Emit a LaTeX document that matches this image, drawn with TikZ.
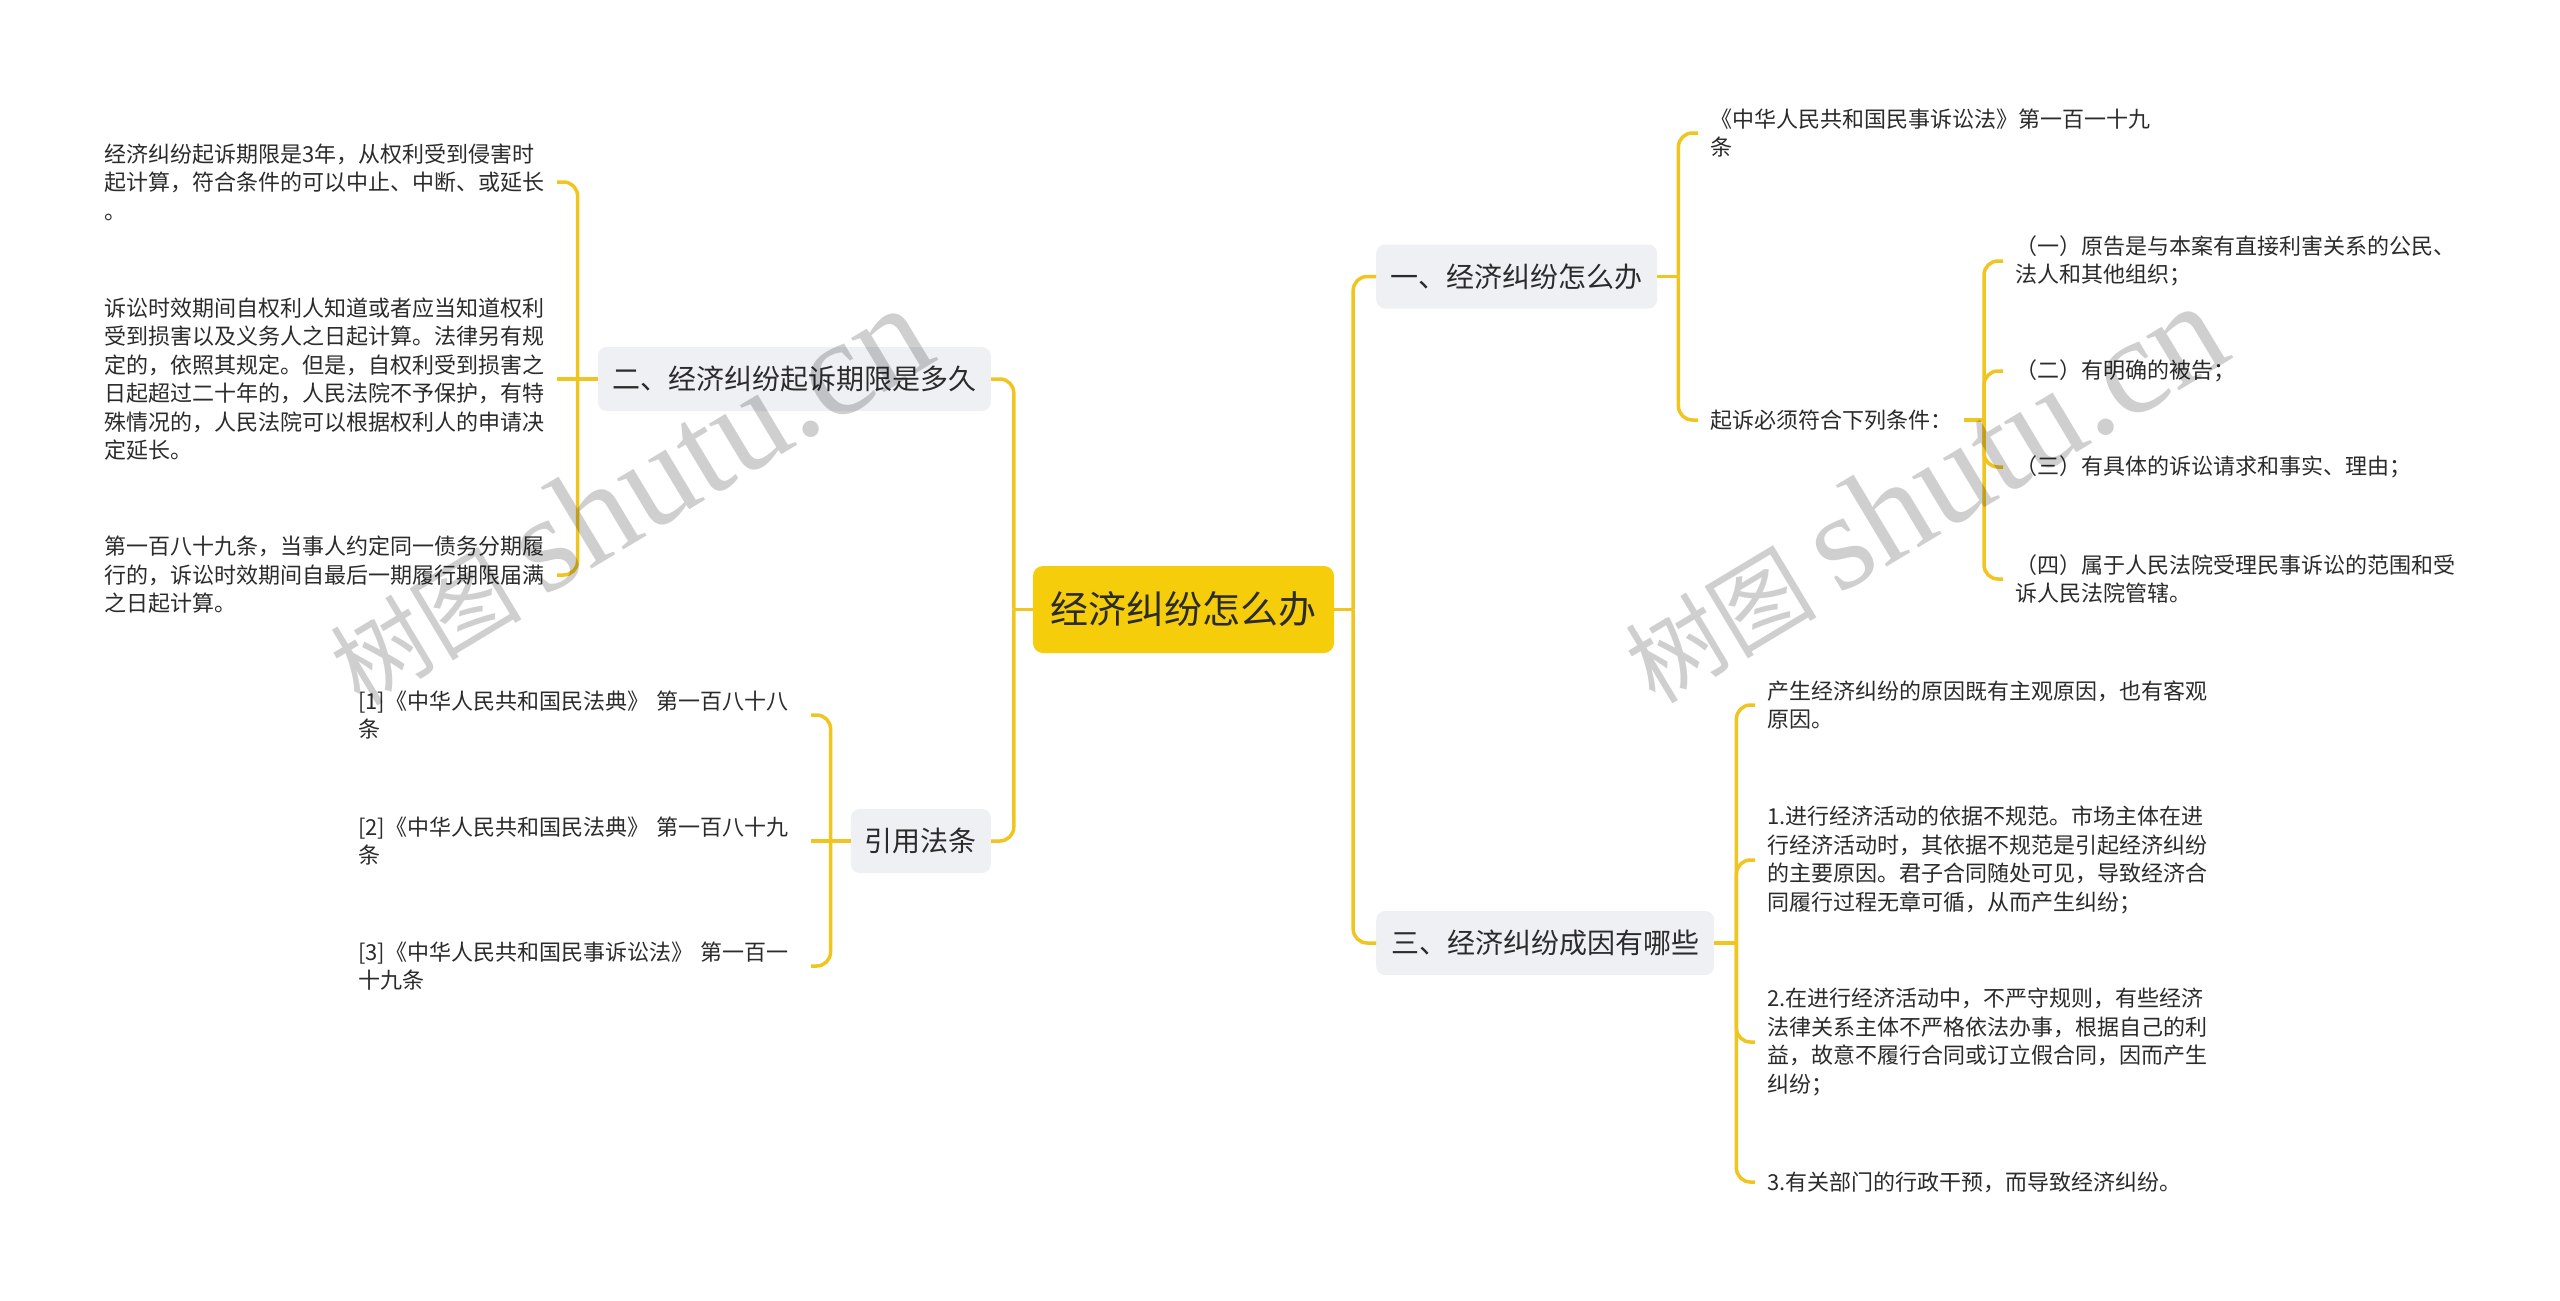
\documentclass[tikz,border=0pt]{standalone}
\usepackage{fontspec}
\setmainfont{Noto Sans CJK SC}
\newfontfamily\wmlatin{Liberation Serif}
\definecolor{lc}{HTML}{F0C520}
\definecolor{rootc}{HTML}{F5CD0B}
\definecolor{boxc}{HTML}{EEF0F4}
\definecolor{txt}{HTML}{2B2B2B}
\definecolor{wmc}{HTML}{CFCFCF}
\tikzset{
  conn/.style={draw=lc, line width=3.5pt, rounded corners=14pt},
  rootbox/.style={fill=rootc, rounded corners=10pt, minimum width=301pt, minimum height=87pt,
    inner sep=0pt, text=txt, font=\fontsize{38}{46}\selectfont},
  subbox/.style={fill=boxc, rounded corners=9pt, minimum height=64pt, inner sep=0pt,
    text=txt, font=\fontsize{28}{34}\selectfont},
  leaf/.style={align=left, text=txt, font=\fontsize{22}{28.5}\selectfont,
    inner xsep=0pt, inner ysep=2pt, outer xsep=12pt},
  lleaf/.style={leaf, text width=441pt, anchor=east},
  rleaf/.style={leaf, anchor=west},
  wmark/.style={text=wmc, inner sep=0pt, rotate=31, anchor=base west}
}
\begin{document}
\begin{tikzpicture}[x=1pt,y=-1pt]
\useasboundingbox (0,0) rectangle (2560,1301);
\fill[white] (0,0) rectangle (2560,1301);

% main nodes
\node[rootbox] (root) at (1183.5,609.5) {经济纠纷怎么办};
\node[subbox, minimum width=281pt, anchor=west] (b1) at (1376,276.5) {一、经济纠纷怎么办};
\node[subbox, minimum width=393pt, anchor=east] (b2) at (991,379) {二、经济纠纷起诉期限是多久};
\node[subbox, minimum width=338pt, anchor=west] (b3) at (1376,943) {三、经济纠纷成因有哪些};
\node[subbox, minimum width=140pt, anchor=east] (b4) at (991,841) {引用法条};

% left leaves of b2
\node[lleaf] (l1) at (557,182) {经济纠纷起诉期限是3年，从权利受到侵害时\\起计算，符合条件的可以中止、中断、或延长\\。};
\node[lleaf] (l2) at (557,379) {诉讼时效期间自权利人知道或者应当知道权利\\受到损害以及义务人之日起计算。法律另有规\\定的，依照其规定。但是，自权利受到损害之\\日起超过二十年的，人民法院不予保护，有特\\殊情况的，人民法院可以根据权利人的申请决\\定延长。};
\node[lleaf] (l3) at (557,575) {第一百八十九条，当事人约定同一债务分期履\\行的，诉讼时效期间自最后一期履行期限届满\\之日起计算。};

% leaves of b4
\node[lleaf] (r1) at (811,715) {[1]《中华人民共和国民法典》 第一百八十八\\条};
\node[lleaf] (r2) at (811,841) {[2]《中华人民共和国民法典》 第一百八十九\\条};
\node[lleaf] (r3) at (811,966) {[3]《中华人民共和国民事诉讼法》 第一百一\\十九条};

% leaves of b1
\node[rleaf] (a1) at (1698,133) {《中华人民共和国民事诉讼法》第一百一十九\\条};
\node[rleaf] (a2) at (1698,420) {起诉必须符合下列条件：};
\node[rleaf] (d1) at (2003,261) {（一）原告是与本案有直接利害关系的公民、\\法人和其他组织；};
\node[rleaf] (d2) at (2003,371) {（二）有明确的被告；};
\node[rleaf] (d3) at (2003,467) {（三）有具体的诉讼请求和事实、理由；};
\node[rleaf] (d4) at (2003,579) {（四）属于人民法院受理民事诉讼的范围和受\\诉人民法院管辖。};

% leaves of b3
\node[rleaf] (c1) at (1755,705) {产生经济纠纷的原因既有主观原因，也有客观\\原因。};
\node[rleaf] (c2) at (1755,860) {1.进行经济活动的依据不规范。市场主体在进\\行经济活动时，其依据不规范是引起经济纠纷\\的主要原因。君子合同随处可见，导致经济合\\同履行过程无章可循，从而产生纠纷；};
\node[rleaf] (c3) at (1755,1042) {2.在进行经济活动中，不严守规则，有些经济\\法律关系主体不严格依法办事，根据自己的利\\益，故意不履行合同或订立假合同，因而产生\\纠纷；};
\node[rleaf] (c4) at (1755,1182) {3.有关部门的行政干预，而导致经济纠纷。};

% connectors: root
\draw[conn] (root.east) -- ++(19,0) coordinate (rT);
\draw[conn] (rT) |- (b1.west);
\draw[conn] (rT) |- (b3.west);
\draw[conn] (root.west) -- ++(-19,0) coordinate (lT);
\draw[conn] (lT) |- (b2.east);
\draw[conn] (lT) |- (b4.east);

% b2
\draw[conn] (b2.west) -- ++(-20,0) coordinate (b2T);
\draw[conn] (b2T) |- (l1.east);
\draw[conn] (b2T) -- (l2.east);
\draw[conn] (b2T) |- (l3.east);

% b4
\draw[conn] (b4.west) -- ++(-20,0) coordinate (b4T);
\draw[conn] (b4T) |- (r1.east);
\draw[conn] (b4T) -- (r2.east);
\draw[conn] (b4T) |- (r3.east);

% b1
\draw[conn] (b1.east) -- ++(21,0) coordinate (b1T);
\draw[conn] (b1T) |- (a1.west);
\draw[conn] (b1T) |- (a2.west);

% a2
\draw[conn] (a2.east) -- ++(20,0) coordinate (a2T);
\draw[conn] (a2T) |- (d1.west);
\draw[conn] (a2T) |- (d2.west);
\draw[conn] (a2T) |- (d3.west);
\draw[conn] (a2T) |- (d4.west);

% b3
\draw[conn] (b3.east) -- ++(22,0) coordinate (b3T);
\draw[conn] (b3T) |- (c1.west);
\draw[conn] (b3T) |- (c2.west);
\draw[conn] (b3T) |- (c3.west);
\draw[conn] (b3T) |- (c4.west);

% watermarks
\begin{scope}[blend mode=multiply]
\node[wmark] (wm1) at (360,708) {\fontsize{96}{96}\selectfont 树图 {\wmlatin\fontsize{138}{138}\selectfont shutu.cn}};
\node[wmark] (wm2) at (1655,706) {\fontsize{96}{96}\selectfont 树图 {\wmlatin\fontsize{138}{138}\selectfont shutu.cn}};
\end{scope}
\end{tikzpicture}
\end{document}
